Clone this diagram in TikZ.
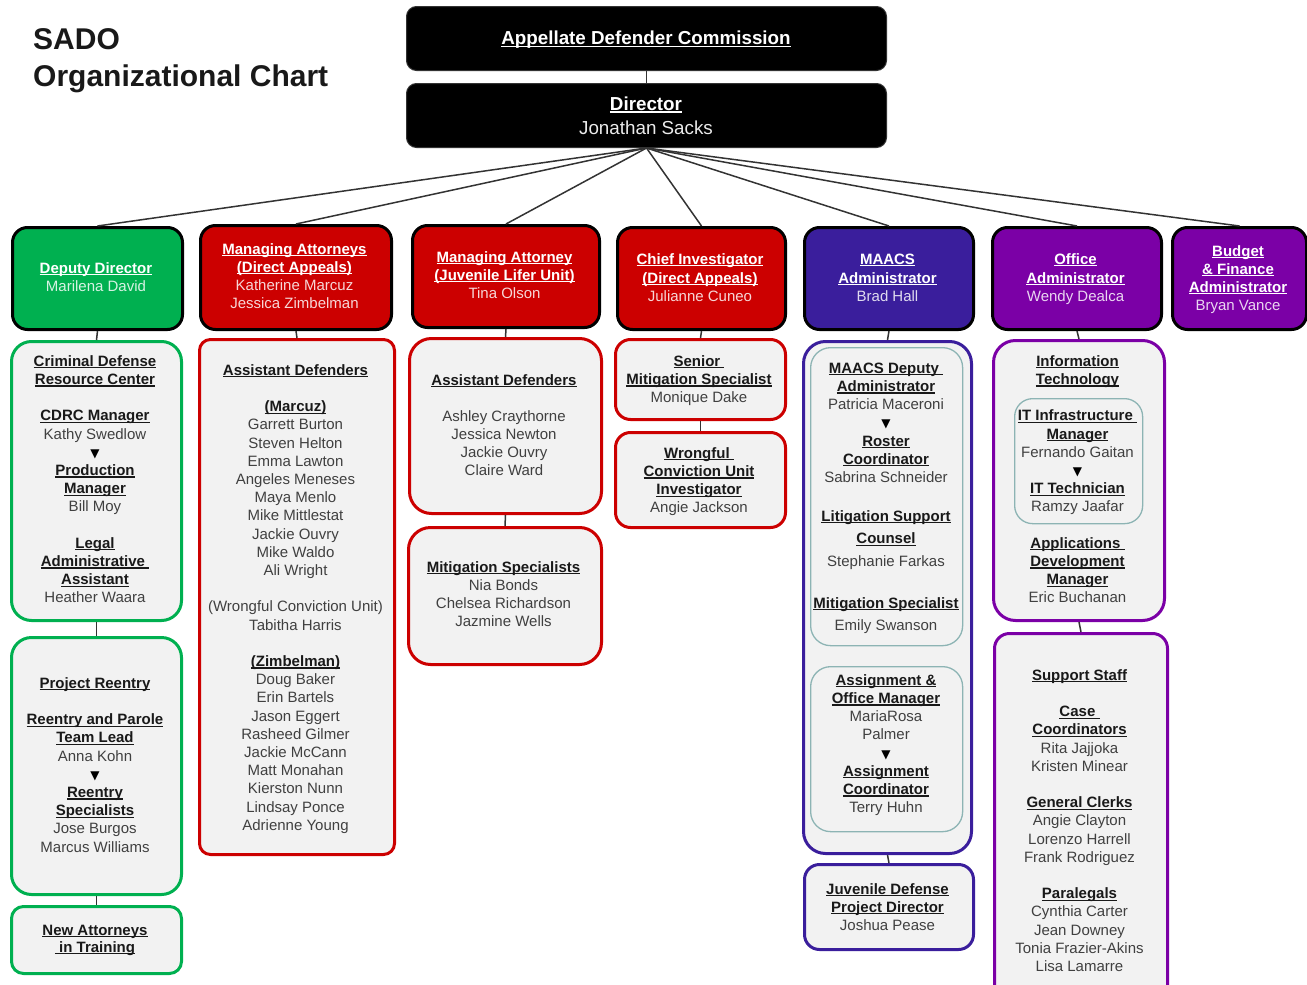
\documentclass[tikz,border=0pt]{standalone}
\usepackage{fontspec}
\setmainfont{Liberation Sans}
\newfontfamily\dvs{DejaVu Sans}
\definecolor{cgreen}{HTML}{00B050}
\definecolor{cred}{HTML}{CC0000}
\definecolor{cblue}{HTML}{3A1E9C}
\definecolor{cpurp}{HTML}{7B00A6}
\definecolor{cteal}{HTML}{8DB4B4}
\definecolor{cfill}{HTML}{F2F2F2}
\definecolor{cline}{HTML}{333333}
\newcommand\ulx[1]{\setbox0=\hbox{#1}\leavevmode\rlap{\rule[-0.15em]{\wd0}{0.08em}}\box0}
\newcommand\hd[1]{{\color{black!90}\ulx{\bfseries #1}}}
\newcommand\hw[1]{\ulx{\bfseries #1}}
\newcommand\hn[2]{{\color{white!84!#1}#2}}
\newcommand\tri{{\color{black}\dvs\fontsize{12}{14}\selectfont ▼}}
\newcommand\st{\rule{0pt}{11pt}}
\newcommand\bx[6]{\node[#1, anchor=north west, minimum width={(#5-#3)*1pt}, minimum height={(#6-#4)*1pt}] (#2) at (#3,#4) {};}
\tikzset{
  hdr/.style={draw=black, line width=3pt, rounded corners=15pt, inner sep=0pt, fill=#1},
  bodybox/.style={draw=#1, fill=cfill, line width=3pt, rounded corners=20pt, inner sep=0pt},
  innerbox/.style={draw=cteal, line width=1.3pt, rounded corners=18pt, inner sep=0pt},
  topbox/.style={fill=black, draw=black!80, line width=1pt, rounded corners=10pt, inner sep=0pt},
  txt/.style={anchor=north, align=center, inner sep=0pt, text=black!75, font=\fontsize{15}{18.2}\selectfont},
  wtxt/.style={txt, text=white},
  conn/.style={draw=cline, line width=1.5pt},
}
\begin{document}
\begin{tikzpicture}[x=1pt,y=-1pt]
\useasboundingbox (0,0) rectangle (1307,985);
\clip (0,0) rectangle (1307,985);
% title
\node[anchor=base west, inner sep=0pt, font=\fontsize{30}{36}\selectfont\bfseries, text=black!90] (title1) at (33,49) {SADO};
\node[anchor=base west, inner sep=0pt, font=\fontsize{30}{36}\selectfont\bfseries, text=black!90] (title2) at (33,86) {Organizational Chart};
% top boxes
\bx{topbox}{comm}{406}{6}{886}{70}
\bx{topbox}{dir}{406}{83}{886}{147}
% headers
\bx{hdr=cgreen}{dep}{11}{226}{181}{328}
\bx{hdr=cred}{ma}{199}{224}{390}{328}
\bx{hdr=cred}{juv}{411}{224}{598}{326}
\bx{hdr=cred}{chief}{616}{226}{784}{328}
\bx{hdr=cblue}{maacs}{803}{226}{972}{328}
\bx{hdr=cpurp}{office}{991}{226}{1160}{328}
\bx{hdr=cpurp}{budget}{1171}{226}{1305}{328}
% body boxes
\bx{bodybox=cgreen}{cdrc}{10}{340}{180}{619}
\bx{bodybox=cgreen}{reentry}{10}{636}{180}{893}
\bx{bodybox=cgreen, rounded corners=12pt}{newatt}{10}{905}{180}{972}
\bx{bodybox=cred, rounded corners=11pt}{ad1}{198}{338}{393}{853}
\bx{bodybox=cred, rounded corners=22pt}{ad2}{408}{337}{600}{512}
\bx{bodybox=cred, rounded corners=22pt}{mit}{407}{526}{600}{663}
\bx{bodybox=cred, rounded corners=15pt}{senior}{614}{338}{784}{418}
\bx{bodybox=cred, rounded corners=15pt}{wcu}{614}{431}{784}{526}
\bx{bodybox=cblue, rounded corners=22pt}{maacsbox}{802}{340}{970}{852}
\bx{innerbox, rounded corners=20pt}{in1}{810}{347}{962}{645}
\bx{innerbox, rounded corners=20pt}{in2}{810}{666}{962}{831}
\bx{bodybox=cblue, rounded corners=15pt}{jdp}{803}{863}{972}{948}
\bx{bodybox=cpurp, rounded corners=22pt}{it}{992}{339}{1163}{619}
\bx{innerbox}{itin}{1014}{398}{1142}{523}
\bx{bodybox=cpurp, rounded corners=15pt}{support}{993}{632}{1166}{1000}
% connectors
\draw[conn] (comm.south) -- (dir.north);
\foreach \h in {dep,ma,juv,chief,maacs,office,budget}{\draw[conn] (dir.south) -- (\h.north);}
\draw[conn] (dep.south) -- (cdrc.north);
\draw[conn] (cdrc.south) -- (reentry.north);
\draw[conn] (reentry.south) -- (newatt.north);
\draw[conn] (ma.south) -- (ad1.north);
\draw[conn] (juv.south) -- (ad2.north);
\draw[conn] (ad2.south) -- (mit.north);
\draw[conn] (chief.south) -- (senior.north);
\draw[conn] (senior.south) -- (wcu.north);
\draw[conn] (maacs.south) -- (maacsbox.north);
\draw[conn] (maacsbox.south) -- (jdp.north);
\draw[conn] (office.south) -- (it.north);
\draw[conn] (it.south) -- (support.north);
% top texts
\node[anchor=base, inner sep=0pt, text=white, font=\fontsize{18.8}{22}\selectfont] (comm-t) at (646,44.5) {\hw{Appellate Defender Commission}};
\node[anchor=base, inner sep=0pt, text=white, font=\fontsize{18.8}{22}\selectfont] (dir-t1) at (646,110) {\hw{Director}};
\node[anchor=base, inner sep=0pt, text=white!92!black, font=\fontsize{18.8}{22}\selectfont] (dir-t2) at (646,134) {Jonathan Sacks};
% header texts
\node[wtxt, font=\fontsize{15}{18}\selectfont] (dep-t) at (96,262) {\st\hw{Deputy Director}\\\hn{cgreen}{Marilena David}};
\node[wtxt, font=\fontsize{15}{18}\selectfont] (ma-t) at (294.5,243) {\st\hw{Managing Attorneys}\\\hw{(Direct Appeals)}\\\hn{cred}{Katherine Marcuz}\\\hn{cred}{Jessica Zimbelman}};
\node[wtxt, font=\fontsize{15}{18}\selectfont] (juv-t) at (504.5,251) {\st\hw{Managing Attorney}\\\hw{(Juvenile Lifer Unit)}\\\hn{cred}{Tina Olson}};
\node[wtxt, font=\fontsize{15}{18.8}\selectfont] (chief-t) at (700,253) {\st\hw{Chief Investigator}\\\hw{(Direct Appeals)}\\\hn{cred}{Julianne Cuneo}};
\node[wtxt, font=\fontsize{15}{18.8}\selectfont] (maacs-t) at (887.5,253) {\st\hw{MAACS}\\\hw{Administrator}\\\hn{cblue}{Brad Hall}};
\node[wtxt, font=\fontsize{15}{18.8}\selectfont] (office-t) at (1075.5,253) {\st\hw{Office}\\\hw{Administrator}\\\hn{cpurp}{Wendy Dealca}};
\node[wtxt, font=\fontsize{15}{18}\selectfont] (budget-t) at (1238,245) {\st\hw{Budget}\\\hw{\&~Finance}\\\hw{Administrator}\\\hn{cpurp}{Bryan Vance}};
% body texts
\node[txt] (cdrc-t) at (95,355) {\st\hd{Criminal Defense}\\\hd{Resource Center}\\[18.2pt]\hd{CDRC Manager}\\Kathy Swedlow\\\tri\\\hd{Production}\\\hd{Manager}\\Bill Moy\\[18.2pt]\hd{Legal}\\\hd{Administrative\ }\\\hd{Assistant}\\Heather Waara};
\node[txt] (reentry-t) at (95,677) {\st\hd{Project Reentry}\\[18.2pt]\hd{Reentry and Parole}\\\hd{Team Lead}\\Anna Kohn\\\tri\\\hd{Reentry}\\\hd{Specialists}\\Jose Burgos\\Marcus Williams};
\node[txt, font=\fontsize{15}{17}\selectfont] (newatt-t) at (95,924) {\st\hd{New Attorneys}\\\hd{\ in Training}};
\node[txt] (ad1-t) at (295.5,364) {\st\hd{Assistant Defenders}\\[18.2pt]\hd{(Marcuz)}\\Garrett Burton\\Steven Helton\\Emma Lawton\\Angeles Meneses\\Maya Menlo\\Mike Mittlestat\\Jackie Ouvry\\Mike Waldo\\Ali Wright\\[18.2pt](Wrongful Conviction Unit)\\Tabitha Harris\\[18.2pt]\hd{(Zimbelman)}\\Doug Baker\\Erin Bartels\\Jason Eggert\\Rasheed Gilmer\\Jackie McCann\\Matt Monahan\\Kierston Nunn\\Lindsay Ponce\\Adrienne Young};
\node[txt, font=\fontsize{15}{18}\selectfont] (ad2-t) at (504,374) {\st\hd{Assistant Defenders}\\[18pt]Ashley Craythorne\\Jessica Newton\\Jackie Ouvry\\Claire Ward};
\node[txt, font=\fontsize{15}{18.2}\selectfont] (mit-t) at (503.5,561) {\st\hd{Mitigation Specialists}\\Nia Bonds\\Chelsea Richardson\\Jazmine Wells};
\node[txt] (senior-t) at (699,355) {\st\hd{Senior\ }\\\hd{Mitigation Specialist}\\Monique Dake};
\node[txt] (wcu-t) at (699,447) {\st\hd{Wrongful\ }\\\hd{Conviction Unit}\\\hd{Investigator}\\Angie Jackson};
\node[txt] (in1a-t) at (886,362) {\st\hd{MAACS Deputy\ }\\\hd{Administrator}\\Patricia Maceroni\\\tri\\\hd{Roster}\\\hd{Coordinator}\\Sabrina Schneider};
\node[txt, font=\fontsize{15}{22.5}\selectfont] (in1b-t) at (886,510) {\st\hd{Litigation Support}\\\hd{Counsel}\\Stephanie Farkas\\[19.5pt]\hd{Mitigation Specialist}\\Emily Swanson};
\node[txt] (in2-t) at (886,674) {\st\hd{Assignment \&}\\\hd{Office Manager}\\MariaRosa\\Palmer\\\tri\\\hd{Assignment}\\\hd{Coordinator}\\Terry Huhn};
\node[txt, font=\fontsize{15}{18}\selectfont] (jdp-t) at (887.5,883) {\st\hd{Juvenile Defense}\\\hd{Project Director}\\Joshua Pease};
\node[txt] (it-t) at (1077.5,355) {\st\hd{Information}\\\hd{Technology}\\[18.2pt]\hd{IT Infrastructure\ }\\\hd{Manager}\\Fernando Gaitan\\\tri\\\hd{IT Technician}\\Ramzy Jaafar\\[18.2pt]\hd{Applications\ }\\\hd{Development}\\\hd{Manager}\\Eric Buchanan};
\node[txt] (support-t) at (1079.5,669) {\st\hd{Support Staff}\\[18.2pt]\hd{Case\ }\\\hd{Coordinators}\\Rita Jajjoka\\Kristen Minear\\[18.2pt]\hd{General Clerks}\\Angie Clayton\\Lorenzo Harrell\\Frank Rodriguez\\[18.2pt]\hd{Paralegals}\\Cynthia Carter\\Jean Downey\\Tonia Frazier-Akins\\Lisa Lamarre};
\end{tikzpicture}
\end{document}
